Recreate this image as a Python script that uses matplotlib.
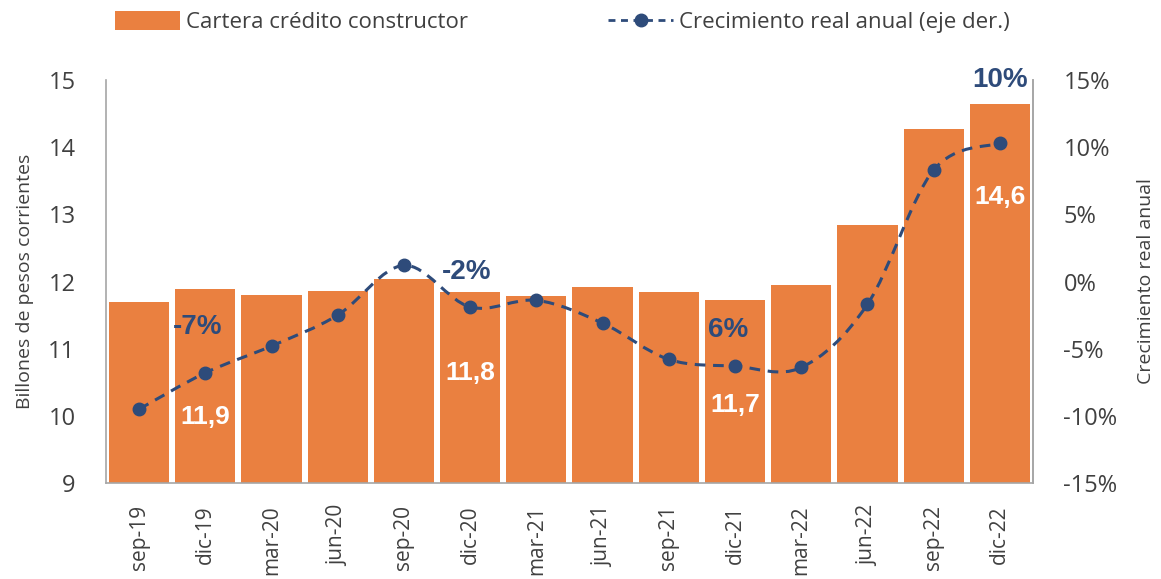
import numpy as np
import matplotlib
matplotlib.use("Agg")
import matplotlib.pyplot as plt
from matplotlib.path import Path
from matplotlib.patches import PathPatch
from matplotlib.lines import Line2D
from matplotlib.patches import Patch

# data
periods = ["sep-19", "dic-19", "mar-20", "jun-20", "sep-20", "dic-20", "mar-21",
           "jun-21", "sep-21", "dic-21", "mar-22", "jun-22", "sep-22", "dic-22"]
cartera = [11.69, 11.89, 11.80, 11.86, 12.04, 11.84, 11.78,
           11.92, 11.84, 11.72, 11.95, 12.84, 14.27, 14.64]
crecimiento = [-9.5, -6.8, -4.8, -2.5, 1.2, -1.9, -1.4,
               -3.1, -5.8, -6.3, -6.4, -1.7, 8.3, 10.3]

# callouts: (text, x index, y on left axis, style)
callouts = [
    ("-7%", 0.88, 11.32, "blue"),
    ("11,9", 1.0, 9.98, "white"),
    ("-2%", 4.95, 12.14, "blue"),
    ("11,8", 5.0, 10.64, "white"),
    ("6%", 8.9, 11.28, "blue"),
    ("11,7", 9.0, 10.16, "white"),
    ("10%", 13.0, 15.0, "blue"),
    ("14,6", 13.0, 13.26, "white"),
]

ORANGE = "#EA8040"
NAVY = "#2E4B7A"
GREY_TXT = "#404040"
SPINE = "#A6A6A6"

plt.rcParams["font.family"] = ["Open Sans", "DejaVu Sans"]


def smooth_path(xs, ys):
    """Catmull-Rom style bezier segments through the points (Excel-like smoothing)."""
    pts = np.column_stack([xs, ys]).astype(float)
    n = len(pts)
    verts = [pts[0]]
    codes = [Path.MOVETO]
    for i in range(n - 1):
        p0 = pts[i - 1] if i > 0 else pts[i]
        p1 = pts[i]
        p2 = pts[i + 1]
        p3 = pts[i + 2] if i + 2 < n else pts[i + 1]
        c1 = p1 + (p2 - p0) / 6.0
        c2 = p2 - (p3 - p1) / 6.0
        verts += [c1, c2, p2]
        codes += [Path.CURVE4] * 3
    return Path(verts, codes)


fig = plt.figure(figsize=(11.61, 5.79), dpi=100)
ax = fig.add_axes([0.0913, 0.1658, 0.7984, 0.696])
x = np.arange(len(periods))

ax.bar(x, [c - 9 for c in cartera], bottom=9, width=0.91, color=ORANGE, zorder=2)
ax.set_xlim(-0.5, len(periods) - 0.5)
ax.set_ylim(9, 15)
ax.set_yticks(range(9, 16))
ax.set_xticks(x)
ax.set_xticklabels(periods, rotation=90, fontsize=15, color=GREY_TXT)
ax.tick_params(axis="y", labelsize=17, labelcolor=GREY_TXT, length=0, pad=22)
ax.tick_params(axis="x", length=0, pad=16)
ax.set_ylabel("Billones de pesos corrientes", fontsize=14, color=GREY_TXT, labelpad=10)
ax.spines["top"].set_visible(False)
for s in ["left", "bottom", "right"]:
    ax.spines[s].set_color(SPINE)
    ax.spines[s].set_linewidth(1.2)

ax2 = ax.twinx()
ax2.set_ylim(-15, 15)
ax2.set_yticks(range(-15, 16, 5))
ax2.set_yticklabels([f"{v}%" for v in range(-15, 16, 5)])
ax2.tick_params(axis="y", labelsize=17, labelcolor=GREY_TXT, length=0, pad=22)
ax2.set_ylabel("Crecimiento real anual", fontsize=14, color=GREY_TXT,
               rotation=90, labelpad=14)
ax2.spines["top"].set_visible(False)
ax2.spines["right"].set_color(SPINE)
ax2.spines["right"].set_linewidth(1.2)
ax2.spines["left"].set_visible(False)
ax2.spines["bottom"].set_visible(False)

curve = PathPatch(smooth_path(x, crecimiento), facecolor="none", edgecolor=NAVY,
                  linewidth=2.2, linestyle=(0, (3.5, 2.5)), zorder=3)
ax2.add_patch(curve)
ax2.plot(x, crecimiento, linestyle="none", marker="o", markersize=9,
         color=NAVY, zorder=4)

for txt, xi, yv, style in callouts:
    color = NAVY if style == "blue" else "white"
    size = 20 if style == "blue" else 19
    ax.text(xi, yv, txt, ha="center", va="center", fontsize=size,
            fontweight="bold", color=color, family=["Liberation Sans", "DejaVu Sans"],
            zorder=5)

handles = [
    Patch(facecolor=ORANGE, edgecolor="none"),
    Line2D([0], [0], color=NAVY, linestyle=(0, (2.5, 2)), linewidth=2,
           marker="o", markersize=9),
]
fig.legend(handles, ["Cartera crédito constructor", "Crecimiento real anual (eje der.)"],
           loc="upper left", bbox_to_anchor=(0.082, 1.015), ncol=2, frameon=False,
           fontsize=16, labelcolor=GREY_TXT, columnspacing=6.3, handlelength=2.9,
           handletextpad=0.3, handleheight=0.9)

fig.savefig("out.png", dpi=100)
